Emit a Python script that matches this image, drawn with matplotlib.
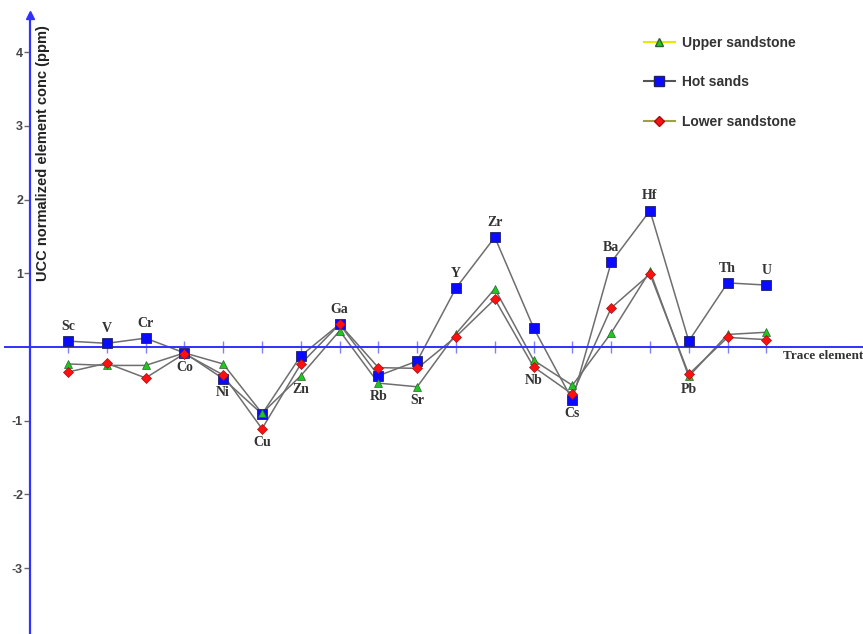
import matplotlib.pyplot as plt
from matplotlib.lines import Line2D

# Trace elements along the x axis
elements = ["Sc", "V", "Cr", "Co", "Ni", "Cu", "Zn", "Ga", "Rb", "Sr",
            "Y", "Zr", "Nb", "Cs", "Ba", "Hf", "Pb", "Th", "U"]

# UCC normalized concentrations
hot_sands = [0.08, 0.05, 0.12, -0.08, -0.43, -0.91, -0.12, 0.31, -0.39, -0.19,
             0.80, 1.49, 0.26, -0.72, 1.15, 1.85, 0.08, 0.87, 0.84]
upper_sandstone = [-0.23, -0.25, -0.25, -0.08, -0.23, -0.90, -0.39, 0.22, -0.49, -0.54,
                   0.18, 0.79, -0.18, -0.52, 0.19, 1.03, -0.40, 0.17, 0.20]
lower_sandstone = [-0.34, -0.22, -0.42, -0.09, -0.38, -1.11, -0.23, 0.31, -0.28, -0.29,
                   0.14, 0.65, -0.27, -0.64, 0.53, 0.99, -0.37, 0.13, 0.10]

# where each element name goes (above the highest / below the lowest point)
label_side = ["up", "up", "up", "down", "down", "down", "down", "up", "down", "down",
              "up", "up", "down", "down", "up", "up", "down", "up", "up"]

yticks = [-3, -2, -1, 1, 2, 3, 4]

x = list(range(len(elements)))
x_axis_pos = -0.98

fig = plt.figure(figsize=(8.63, 6.34), dpi=100)
ax = fig.add_axes([0, 0, 1, 1])
ax.set_xlim(-1.753, 20.49)
ax.set_ylim(-3.894, 4.708)

line_c = "#6e6e6e"
ax.plot(x, upper_sandstone, color=line_c, lw=1.1, zorder=2)
ax.plot(x, hot_sands, color=line_c, lw=1.1, zorder=2)
ax.plot(x, lower_sandstone, color=line_c, lw=1.1, zorder=2)

ax.plot(x, hot_sands, ls="none", marker="s", ms=7, mfc="#0a0aff", mec="#202060", mew=0.6, zorder=4)
ax.plot(x, upper_sandstone, ls="none", marker="^", ms=6, mfc="#1ec81e", mec="#306030", mew=0.5, zorder=5)
ax.plot(x, lower_sandstone, ls="none", marker="D", ms=4.6, mfc="#ff1010", mec="#a01010", mew=0.5, zorder=6)

# element names
for i, name in enumerate(elements):
    vals = [hot_sands[i], upper_sandstone[i], lower_sandstone[i]]
    if label_side[i] == "up":
        yv, dy, va = max(vals), 6, "bottom"
    else:
        yv, dy, va = min(vals), -5, "top"
    ax.annotate(name, (i, yv), xytext=(0, dy), textcoords="offset points",
                ha="center", va=va, fontsize=10, fontweight="bold",
                family="Liberation Serif", color="#333333", zorder=7)

# axes drawn as blue crossing lines
for s in ["top", "right"]:
    ax.spines[s].set_visible(False)
ax.spines["left"].set_position(("data", x_axis_pos))
ax.spines["bottom"].set_position(("data", 0))
ax.spines["left"].set_color("#3030ff")
ax.spines["bottom"].set_color("#3030ff")
ax.spines["left"].set_linewidth(1.6)
ax.spines["bottom"].set_linewidth(1.4)
ax.spines["bottom"].set_bounds(-1.62, 20.49)
ax.spines["left"].set_bounds(-3.894, 4.50)
ax.plot([x_axis_pos], [4.50], marker="^", ms=6, color="#3030ff", clip_on=False, zorder=3)

ax.set_xticks(x)
ax.set_xticklabels([])
ax.tick_params(axis="x", direction="inout", length=9, width=1, color="#8080ff")
ax.set_yticks(yticks)
ax.set_yticklabels([str(t) for t in yticks])
ax.tick_params(axis="y", direction="out", length=4, width=1, color="#666666",
               labelsize=9, labelcolor="#444444", pad=1)
for lab in ax.get_yticklabels():
    lab.set_fontweight("bold")
    lab.set_family("Liberation Sans")

fig.text(43 / 863, 1 - 153 / 634, "UCC normalized element conc (ppm)", rotation=90,
         ha="center", va="center", fontsize=10.5, fontweight="bold",
         family="Liberation Sans", color="#222222")
fig.text(783 / 863, 1 - 356 / 634, "Trace element", ha="left", va="center",
         fontsize=9.5, fontweight="bold", family="Liberation Serif", color="#333333")

handles = [
    Line2D([], [], color="#e8e800", lw=1.5, marker="^", ms=6, mfc="#1ec81e", mec="#306030"),
    Line2D([], [], color="#555555", lw=1.5, marker="s", ms=7, mfc="#0a0aff", mec="#202060"),
    Line2D([], [], color="#a0a040", lw=1.5, marker="D", ms=4.6, mfc="#ff1010", mec="#a01010"),
]
leg = ax.legend(handles, ["Upper sandstone", "Hot sands", "Lower sandstone"],
                loc="upper left", bbox_to_anchor=(631 / 863, 1 - 23 / 634), frameon=False,
                labelspacing=1.85, handlelength=2.3, handletextpad=0.45,
                prop={"family": "Liberation Sans", "weight": "bold", "size": 10})
for t in leg.get_texts():
    t.set_color("#333333")

fig.savefig("out.png", dpi=100)
